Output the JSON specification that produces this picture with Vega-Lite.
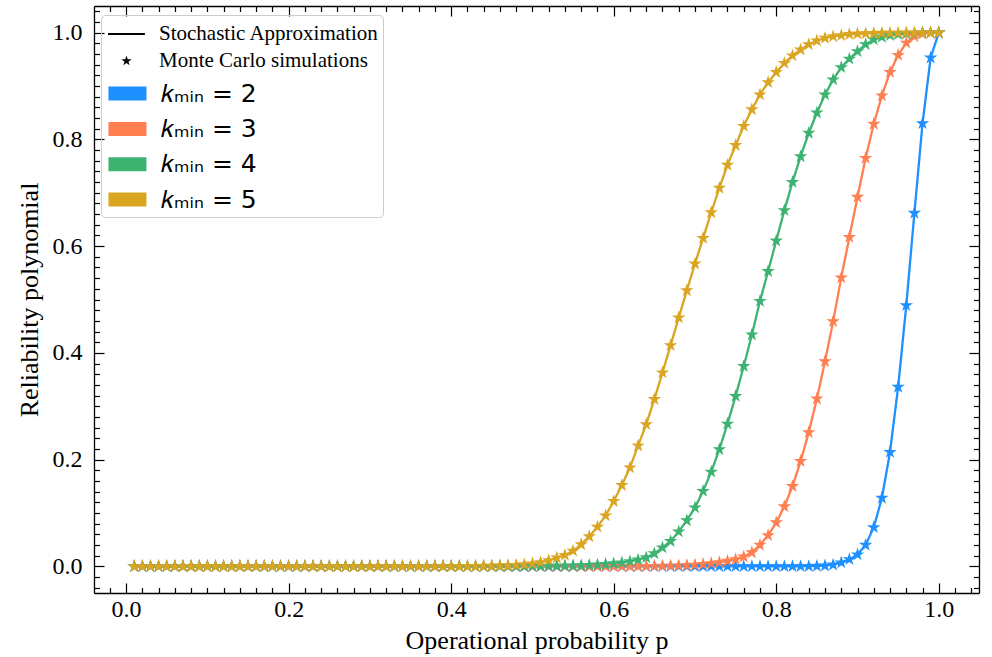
{
  "$schema": "https://vega.github.io/schema/vega-lite/v6.json",
  "width": 885,
  "height": 587,
  "autosize": {"type": "none"},
  "padding": {"left": 94, "top": 6, "right": 13, "bottom": 64},
  "background": "white",
  "config": {"view": {"stroke": null}, "font": "Liberation Serif"},
  "datasets": {
    "rel": [
      {"p":0.01,"k2":0,"k3":0,"k4":0,"k5":0},{"p":0.02,"k2":0,"k3":0,"k4":0,"k5":0},{"p":0.03,"k2":0,"k3":0,"k4":0,"k5":0},{"p":0.04,"k2":0,"k3":0,"k4":0,"k5":0},{"p":0.05,"k2":0,"k3":0,"k4":0,"k5":0},
      {"p":0.06,"k2":0,"k3":0,"k4":0,"k5":0},{"p":0.07,"k2":0,"k3":0,"k4":0,"k5":0},{"p":0.08,"k2":0,"k3":0,"k4":0,"k5":0},{"p":0.09,"k2":0,"k3":0,"k4":0,"k5":0},{"p":0.10,"k2":0,"k3":0,"k4":0,"k5":0},
      {"p":0.11,"k2":0,"k3":0,"k4":0,"k5":0},{"p":0.12,"k2":0,"k3":0,"k4":0,"k5":0},{"p":0.13,"k2":0,"k3":0,"k4":0,"k5":0},{"p":0.14,"k2":0,"k3":0,"k4":0,"k5":0},{"p":0.15,"k2":0,"k3":0,"k4":0,"k5":0},
      {"p":0.16,"k2":0,"k3":0,"k4":0,"k5":0},{"p":0.17,"k2":0,"k3":0,"k4":0,"k5":0},{"p":0.18,"k2":0,"k3":0,"k4":0,"k5":0},{"p":0.19,"k2":0,"k3":0,"k4":0,"k5":0},{"p":0.20,"k2":0,"k3":0,"k4":0,"k5":0},
      {"p":0.21,"k2":0,"k3":0,"k4":0,"k5":0},{"p":0.22,"k2":0,"k3":0,"k4":0,"k5":0},{"p":0.23,"k2":0,"k3":0,"k4":0,"k5":0},{"p":0.24,"k2":0,"k3":0,"k4":0,"k5":0},{"p":0.25,"k2":0,"k3":0,"k4":0,"k5":0},
      {"p":0.26,"k2":0,"k3":0,"k4":0,"k5":0},{"p":0.27,"k2":0,"k3":0,"k4":0,"k5":0},{"p":0.28,"k2":0,"k3":0,"k4":0,"k5":0},{"p":0.29,"k2":0,"k3":0,"k4":0,"k5":0},{"p":0.30,"k2":0,"k3":0,"k4":0,"k5":0},
      {"p":0.31,"k2":0,"k3":0,"k4":0,"k5":0},{"p":0.32,"k2":0,"k3":0,"k4":0,"k5":0},{"p":0.33,"k2":0,"k3":0,"k4":0,"k5":0},{"p":0.34,"k2":0,"k3":0,"k4":0,"k5":0},{"p":0.35,"k2":0,"k3":0,"k4":0,"k5":0},
      {"p":0.36,"k2":0,"k3":0,"k4":0,"k5":0},{"p":0.37,"k2":0,"k3":0,"k4":0,"k5":0},{"p":0.38,"k2":0,"k3":0,"k4":0,"k5":0},{"p":0.39,"k2":0,"k3":0,"k4":0,"k5":0},{"p":0.40,"k2":0,"k3":0,"k4":0,"k5":0},
      {"p":0.41,"k2":0,"k3":0,"k4":0,"k5":0.0001},{"p":0.42,"k2":0,"k3":0,"k4":0,"k5":0.0002},{"p":0.43,"k2":0,"k3":0,"k4":0,"k5":0.0003},{"p":0.44,"k2":0,"k3":0,"k4":0,"k5":0.0005},{"p":0.45,"k2":0,"k3":0,"k4":0,"k5":0.0007},
      {"p":0.46,"k2":0,"k3":0,"k4":0.0001,"k5":0.001},{"p":0.47,"k2":0,"k3":0,"k4":0.0001,"k5":0.0015},{"p":0.48,"k2":0,"k3":0,"k4":0.0002,"k5":0.0022},{"p":0.49,"k2":0,"k3":0,"k4":0.0002,"k5":0.0033},{"p":0.50,"k2":0,"k3":0,"k4":0.0003,"k5":0.005},
      {"p":0.51,"k2":0,"k3":0,"k4":0.0004,"k5":0.0075},{"p":0.52,"k2":0,"k3":0,"k4":0.0005,"k5":0.011},{"p":0.53,"k2":0,"k3":0,"k4":0.0007,"k5":0.016},{"p":0.54,"k2":0,"k3":0,"k4":0.0009,"k5":0.021},{"p":0.55,"k2":0,"k3":0,"k4":0.0012,"k5":0.029},
      {"p":0.56,"k2":0,"k3":0,"k4":0.0016,"k5":0.041},{"p":0.57,"k2":0,"k3":0,"k4":0.0022,"k5":0.056},{"p":0.58,"k2":0,"k3":0,"k4":0.003,"k5":0.074},{"p":0.59,"k2":0,"k3":0,"k4":0.004,"k5":0.095},{"p":0.60,"k2":0,"k3":0,"k4":0.0053,"k5":0.122},
      {"p":0.61,"k2":0,"k3":0.0001,"k4":0.007,"k5":0.152},{"p":0.62,"k2":0,"k3":0.0001,"k4":0.0093,"k5":0.185},{"p":0.63,"k2":0,"k3":0.0002,"k4":0.0123,"k5":0.226},{"p":0.64,"k2":0,"k3":0.0003,"k4":0.0165,"k5":0.266},{"p":0.65,"k2":0,"k3":0.0004,"k4":0.024,"k5":0.313},
      {"p":0.66,"k2":0,"k3":0.0006,"k4":0.035,"k5":0.363},{"p":0.67,"k2":0,"k3":0.0009,"k4":0.047,"k5":0.414},{"p":0.68,"k2":0,"k3":0.0013,"k4":0.065,"k5":0.466},{"p":0.69,"k2":0,"k3":0.002,"k4":0.086,"k5":0.517},{"p":0.70,"k2":0,"k3":0.0028,"k4":0.110,"k5":0.567},
      {"p":0.71,"k2":0,"k3":0.004,"k4":0.141,"k5":0.615},{"p":0.72,"k2":0,"k3":0.0055,"k4":0.177,"k5":0.663},{"p":0.73,"k2":0,"k3":0.0075,"k4":0.219,"k5":0.709},{"p":0.74,"k2":0,"k3":0.010,"k4":0.267,"k5":0.752},{"p":0.75,"k2":0,"k3":0.013,"k4":0.319,"k5":0.789},
      {"p":0.76,"k2":0,"k3":0.018,"k4":0.375,"k5":0.825},{"p":0.77,"k2":0,"k3":0.026,"k4":0.434,"k5":0.856},{"p":0.78,"k2":0,"k3":0.040,"k4":0.497,"k5":0.884},{"p":0.79,"k2":0,"k3":0.058,"k4":0.553,"k5":0.907},{"p":0.80,"k2":0,"k3":0.082,"k4":0.610,"k5":0.926},
      {"p":0.81,"k2":0,"k3":0.112,"k4":0.667,"k5":0.943},{"p":0.82,"k2":0,"k3":0.150,"k4":0.720,"k5":0.957},{"p":0.83,"k2":0.0001,"k3":0.197,"k4":0.768,"k5":0.968},{"p":0.84,"k2":0.0002,"k3":0.251,"k4":0.812,"k5":0.978},{"p":0.85,"k2":0.0005,"k3":0.314,"k4":0.850,"k5":0.985},
      {"p":0.86,"k2":0.0012,"k3":0.384,"k4":0.884,"k5":0.990},{"p":0.87,"k2":0.003,"k3":0.459,"k4":0.912,"k5":0.993},{"p":0.88,"k2":0.007,"k3":0.541,"k4":0.935,"k5":0.995},{"p":0.89,"k2":0.013,"k3":0.617,"k4":0.951,"k5":0.997},{"p":0.90,"k2":0.022,"k3":0.692,"k4":0.965,"k5":0.998},
      {"p":0.91,"k2":0.040,"k3":0.765,"k4":0.978,"k5":0.9985},{"p":0.92,"k2":0.073,"k3":0.829,"k4":0.987,"k5":0.999},{"p":0.93,"k2":0.128,"k3":0.882,"k4":0.992,"k5":0.9993},{"p":0.94,"k2":0.214,"k3":0.926,"k4":0.995,"k5":0.9995},{"p":0.95,"k2":0.336,"k3":0.958,"k4":0.997,"k5":0.9997},
      {"p":0.96,"k2":0.489,"k3":0.981,"k4":0.998,"k5":0.9998},{"p":0.97,"k2":0.662,"k3":0.993,"k4":0.999,"k5":1},{"p":0.98,"k2":0.830,"k3":0.998,"k4":1,"k5":1},{"p":0.99,"k2":0.953,"k3":1,"k4":1,"k5":1},{"p":1.00,"k2":1,"k3":1,"k4":1,"k5":1}
    ],
    "legendA": [
      {"entry": "Stochastic Approximation"},
      {"entry": "Monte Carlo simulations"}
    ],
    "legendB": [
      {"kentry": "𝑘ₘᵢₙ = 2"},
      {"kentry": "𝑘ₘᵢₙ = 3"},
      {"kentry": "𝑘ₘᵢₙ = 4"},
      {"kentry": "𝑘ₘᵢₙ = 5"}
    ]
  },
  "resolve": {"axis": {"x": "independent", "y": "independent"}},
  "layer": [
    {
      "data": {"name": "rel"},
      "transform": [{"fold": ["k2", "k3", "k4", "k5"], "as": ["k", "R"]}],
      "mark": {"type": "line", "strokeWidth": 2.3},
      "encoding": {
        "x": {
          "field": "p", "type": "quantitative",
          "scale": {"domain": [-0.0395, 1.0495], "nice": false, "zero": false},
          "axis": {
            "orient": "bottom",
            "values": [-0.02,0,0.02,0.04,0.06,0.08,0.1,0.12,0.14,0.16,0.18,0.2,0.22,0.24,0.26,0.28,0.3,0.32,0.34,0.36,0.38,0.4,0.42,0.44,0.46,0.48,0.5,0.52,0.54,0.56,0.58,0.6,0.62,0.64,0.66,0.68,0.7,0.72,0.74,0.76,0.78,0.8,0.82,0.84,0.86,0.88,0.9,0.92,0.94,0.96,0.98,1,1.02,1.04],
            "labelExpr": "abs(datum.value*5 - round(datum.value*5)) < 0.001 ? format(datum.value, '.1f') : ''",
            "tickSize": {"condition": {"test": "abs(datum.value*5 - round(datum.value*5)) < 0.001", "value": -10}, "value": -5.5},
            "tickColor": "black", "tickWidth": 1.2,
            "domainColor": "black", "domainWidth": 1.3,
            "grid": false,
            "labelFont": "Liberation Serif", "labelFontSize": 24, "labelColor": "black",
            "labelPadding": 14, "labelOverlap": false, "labelFlush": false, "labelBound": false,
            "title": "Operational probability p",
            "titleFont": "Liberation Serif", "titleFontSize": 26, "titleFontWeight": "normal", "titleColor": "black",
            "titlePadding": 2
          }
        },
        "y": {
          "field": "R", "type": "quantitative",
          "scale": {"domain": [-0.05, 1.05], "nice": false, "zero": false},
          "axis": {
            "orient": "left",
            "values": [-0.04,-0.02,0,0.02,0.04,0.06,0.08,0.1,0.12,0.14,0.16,0.18,0.2,0.22,0.24,0.26,0.28,0.3,0.32,0.34,0.36,0.38,0.4,0.42,0.44,0.46,0.48,0.5,0.52,0.54,0.56,0.58,0.6,0.62,0.64,0.66,0.68,0.7,0.72,0.74,0.76,0.78,0.8,0.82,0.84,0.86,0.88,0.9,0.92,0.94,0.96,0.98,1,1.02,1.04],
            "labelExpr": "abs(datum.value*5 - round(datum.value*5)) < 0.001 ? format(datum.value, '.1f') : ''",
            "tickSize": {"condition": {"test": "abs(datum.value*5 - round(datum.value*5)) < 0.001", "value": -10}, "value": -5.5},
            "tickColor": "black", "tickWidth": 1.2,
            "domainColor": "black", "domainWidth": 1.3,
            "grid": false,
            "labelFont": "Liberation Serif", "labelFontSize": 24, "labelColor": "black",
            "labelPadding": 22, "labelOverlap": false, "labelFlush": false, "labelBound": false,
            "title": "Reliability polynomial",
            "titleFont": "Liberation Serif", "titleFontSize": 26, "titleFontWeight": "normal", "titleColor": "black",
            "titlePadding": 10
          }
        },
        "color": {
          "field": "k", "type": "nominal",
          "scale": {"domain": ["k2", "k3", "k4", "k5"], "range": ["#1E90FF", "#FF7F50", "#3CB371", "#DAA520"]},
          "legend": null
        }
      }
    },
    {
      "data": {"name": "rel"},
      "transform": [{"fold": ["k2", "k3", "k4", "k5"], "as": ["k", "R"]}],
      "mark": {
        "type": "point", "filled": true, "opacity": 1, "size": 200,
        "shape": "M0,-1L0.2245,-0.309L0.951,-0.309L0.363,0.118L0.588,0.809L0,0.382L-0.588,0.809L-0.363,0.118L-0.951,-0.309L-0.2245,-0.309Z"
      },
      "encoding": {
        "x": {
          "field": "p", "type": "quantitative",
          "axis": {
            "orient": "top",
            "values": [-0.02,0,0.02,0.04,0.06,0.08,0.1,0.12,0.14,0.16,0.18,0.2,0.22,0.24,0.26,0.28,0.3,0.32,0.34,0.36,0.38,0.4,0.42,0.44,0.46,0.48,0.5,0.52,0.54,0.56,0.58,0.6,0.62,0.64,0.66,0.68,0.7,0.72,0.74,0.76,0.78,0.8,0.82,0.84,0.86,0.88,0.9,0.92,0.94,0.96,0.98,1,1.02,1.04],
            "labels": false, "title": null, "grid": false,
            "tickSize": {"condition": {"test": "abs(datum.value*5 - round(datum.value*5)) < 0.001", "value": -10}, "value": -5.5},
            "tickColor": "black", "tickWidth": 1.2,
            "domainColor": "black", "domainWidth": 1.3
          }
        },
        "y": {
          "field": "R", "type": "quantitative",
          "axis": {
            "orient": "right",
            "values": [-0.04,-0.02,0,0.02,0.04,0.06,0.08,0.1,0.12,0.14,0.16,0.18,0.2,0.22,0.24,0.26,0.28,0.3,0.32,0.34,0.36,0.38,0.4,0.42,0.44,0.46,0.48,0.5,0.52,0.54,0.56,0.58,0.6,0.62,0.64,0.66,0.68,0.7,0.72,0.74,0.76,0.78,0.8,0.82,0.84,0.86,0.88,0.9,0.92,0.94,0.96,0.98,1,1.02,1.04],
            "labels": false, "title": null, "grid": false,
            "tickSize": {"condition": {"test": "abs(datum.value*5 - round(datum.value*5)) < 0.001", "value": -10}, "value": -5.5},
            "tickColor": "black", "tickWidth": 1.2,
            "domainColor": "black", "domainWidth": 1.3
          }
        },
        "color": {"field": "k", "type": "nominal", "legend": null}
      }
    },
    {
      "data": {"name": "legendB"},
      "transform": [{"filter": "false"}],
      "mark": {"type": "point", "filled": true, "size": 900, "strokeWidth": 2, "opacity": 1, "shape": "M-0.77,-0.4H1.63V0.4H-0.77Z"},
      "encoding": {
        "fill": {
          "field": "kentry", "type": "nominal",
          "scale": {
            "domain": ["𝑘ₘᵢₙ = 2", "𝑘ₘᵢₙ = 3", "𝑘ₘᵢₙ = 4", "𝑘ₘᵢₙ = 5"],
            "range": ["#1E90FF", "#FF7F50", "#3CB371", "#DAA520"]
          },
          "legend": {
            "title": null,
            "orient": "none", "legendX": 7, "legendY": 67.6,
            "fillColor": "transparent", "strokeColor": "transparent",
            "padding": 4, "rowPadding": 6.3, "labelOffset": 24,
            "symbolType": "M-0.77,-0.4H1.63V0.4H-0.77Z",
            "symbolSize": 900, "symbolStrokeWidth": 2,
            "labelFont": "DejaVu Sans", "labelFontSize": 25, "labelColor": "black", "labelLimit": 400
          }
        },
        "stroke": {
          "field": "kentry", "type": "nominal",
          "scale": {
            "domain": ["𝑘ₘᵢₙ = 2", "𝑘ₘᵢₙ = 3", "𝑘ₘᵢₙ = 4", "𝑘ₘᵢₙ = 5"],
            "range": ["#1E90FF", "#FF7F50", "#3CB371", "#DAA520"]
          }
        }
      }
    },
    {
      "data": {"name": "legendA"},
      "transform": [{"filter": "false"}],
      "mark": {"type": "point", "filled": true, "color": "black", "size": 900, "opacity": 1},
      "encoding": {
        "shape": {
          "field": "entry", "type": "nominal",
          "scale": {
            "domain": ["Stochastic Approximation", "Monte Carlo simulations"],
            "range": [
              "M-0.8,-0.07H1.66V0.07H-0.8Z",
              "M0.433,-0.36L0.5138,-0.1112L0.7754,-0.1112L0.5637,0.0425L0.6447,0.2912L0.433,0.1375L0.2213,0.2912L0.3023,0.0425L0.0906,-0.1112L0.3522,-0.1112Z"
            ]
          },
          "legend": {
            "title": " ", "titleOrient": "bottom",
            "titleFont": "Liberation Serif", "titleFontSize": 21, "titlePadding": 121,
            "orient": "none", "legendX": 7, "legendY": 9,
            "fillColor": "transparent", "strokeColor": "#cccccc", "cornerRadius": 4,
            "padding": 4, "rowPadding": 2, "labelOffset": 24,
            "symbolSize": 900, "symbolStrokeWidth": 0,
            "symbolFillColor": "black",
            "labelFont": "Liberation Serif", "labelFontSize": 21, "labelColor": "black", "labelLimit": 400
          }
        }
      }
    }
  ]
}
